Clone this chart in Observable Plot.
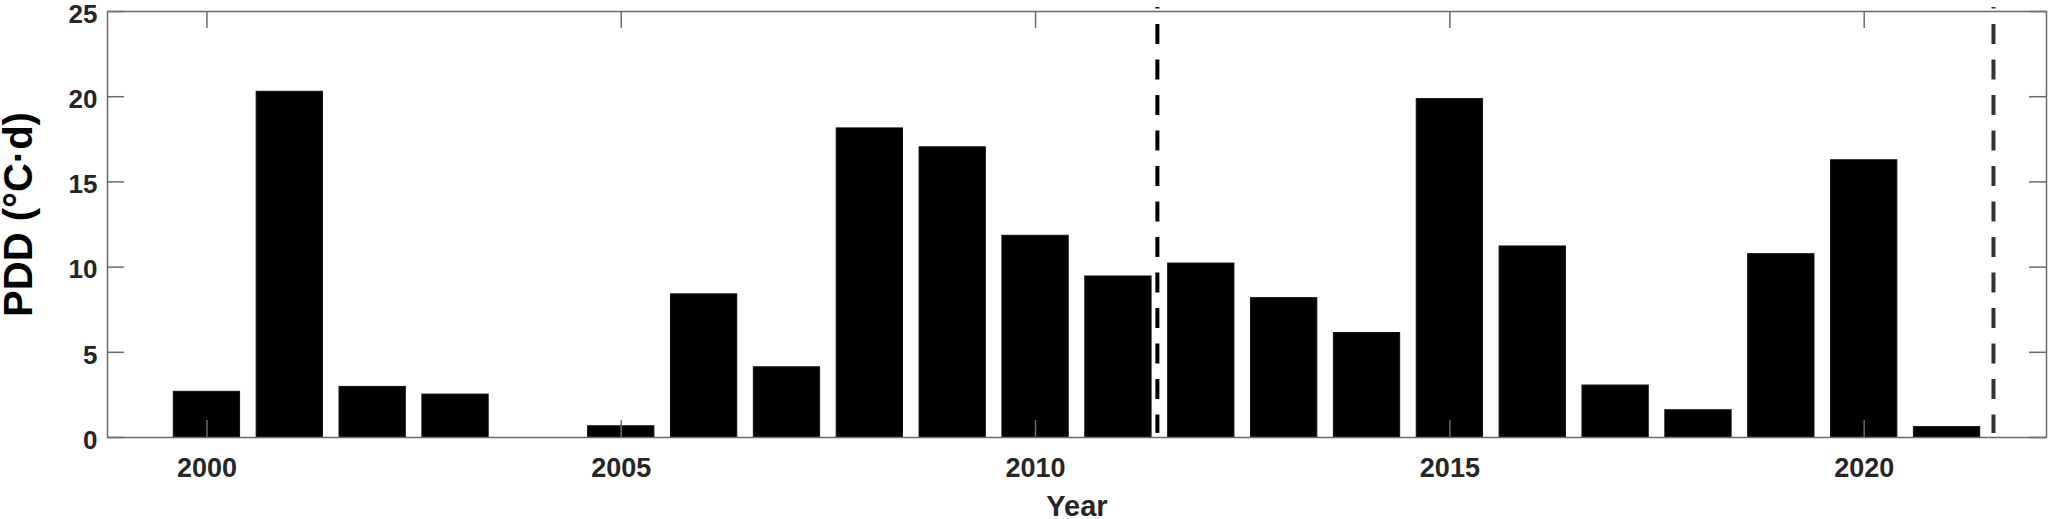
<!DOCTYPE html>
<html><head><meta charset="utf-8">
<script src="https://cdn.jsdelivr.net/npm/d3@7"></script>
<script src="https://cdn.jsdelivr.net/npm/@observablehq/plot@0.6"></script>
<style>html,body{margin:0;padding:0;background:#fff}</style>
</head><body><div id="chart"></div>
<script>
const years = [2000, 2001, 2002, 2003, 2004, 2005, 2006, 2007, 2008, 2009, 2010, 2011, 2012, 2013, 2014, 2015, 2016, 2017, 2018, 2019, 2020, 2021];
const pdd = [2.68, 20.29, 2.97, 2.52, 0, 0.66, 8.40, 4.12, 18.14, 17.03, 11.84, 9.45, 10.21, 8.18, 6.13, 19.86, 11.21, 3.05, 1.60, 10.76, 16.27, 0.61];
const xTicks = [2000, 2005, 2010, 2015, 2020];
const yTicks = [0, 5, 10, 15, 20, 25];
const dividerYears = [2011.47, 2021.56];
const dividerColors = ["#000000", "#333333"];
const xDomain = [1998.8, 2022.2];
const yDomain = [0, 25];
const xLabel = "Year";
const yLabel = "PDD (°C·d)";

const data = years.map((y, i) => ({year: y, pdd: pdd[i]}));

const W = 2050, H = 519;
const mL = 107, mR = 4, mT = 11, mB = 82;
const plotW = W - mL - mR, plotH = H - mT - mB;
const tickLen = 17;
const barW = 0.8;
const axisColor = "#6a6a6a";
const textColor = "#262626";
const font = "'Liberation Sans', Arial, Helvetica, sans-serif";

const marks = [
  Plot.rectY(data, {
    filter: d => d.pdd > 0,
    x1: d => d.year - barW / 2,
    x2: d => d.year + barW / 2,
    y: "pdd",
    fill: "#000",
    stroke: "#111",
    strokeWidth: 1
  }),
  // inward ticks on all four sides (MATLAB box style)
  Plot.tickX(xTicks, {x: d => d, insetTop: plotH - tickLen, stroke: axisColor, strokeWidth: 1.5}),
  Plot.tickX(xTicks, {x: d => d, insetBottom: plotH - tickLen, stroke: axisColor, strokeWidth: 1.5}),
  Plot.tickY(yTicks, {y: d => d, insetRight: plotW - tickLen, stroke: axisColor, strokeWidth: 1.5}),
  Plot.tickY(yTicks, {y: d => d, insetLeft: plotW - tickLen, stroke: axisColor, strokeWidth: 1.5}),
  Plot.frame({stroke: axisColor, strokeWidth: 1.5}),
  ...dividerYears.map((yr, i) => Plot.ruleX([yr], {
    stroke: dividerColors[i],
    strokeWidth: 4,
    strokeDasharray: "20,15.5",
    strokeDashoffset: 18.5,
    insetTop: -4,
    insetBottom: 4,
    clip: false
  })),
  Plot.axisX({ticks: xTicks, tickSize: 0, tickPadding: 20, tickFormat: d => String(d), label: null, fontSize: 27, fill: textColor}),
  Plot.axisY({ticks: yTicks, tickSize: 0, tickPadding: 10, label: null, fontSize: 26, dy: 3, fill: textColor}),
  Plot.text([xLabel], {frameAnchor: "bottom", textAnchor: "middle", lineAnchor: "top", dy: 58, text: d => d, fontSize: 29, fontWeight: "bold", fill: textColor}),
  Plot.text([yLabel], {frameAnchor: "left", textAnchor: "middle", rotate: -90, lineAnchor: "top", dx: -104, dy: -10, text: d => d, fontSize: 40, fontWeight: "bold", fill: "#000"})
];

const chart = Plot.plot({
  width: W,
  height: H,
  marginLeft: mL,
  marginRight: mR,
  marginTop: mT,
  marginBottom: mB,
  x: {type: "linear", domain: xDomain},
  y: {type: "linear", domain: yDomain},
  style: {fontFamily: font, fontWeight: "bold", fontSize: "26px", color: textColor, background: "#fff", overflow: "visible"},
  marks
});
document.getElementById("chart").appendChild(chart);
</script>
</body></html>
